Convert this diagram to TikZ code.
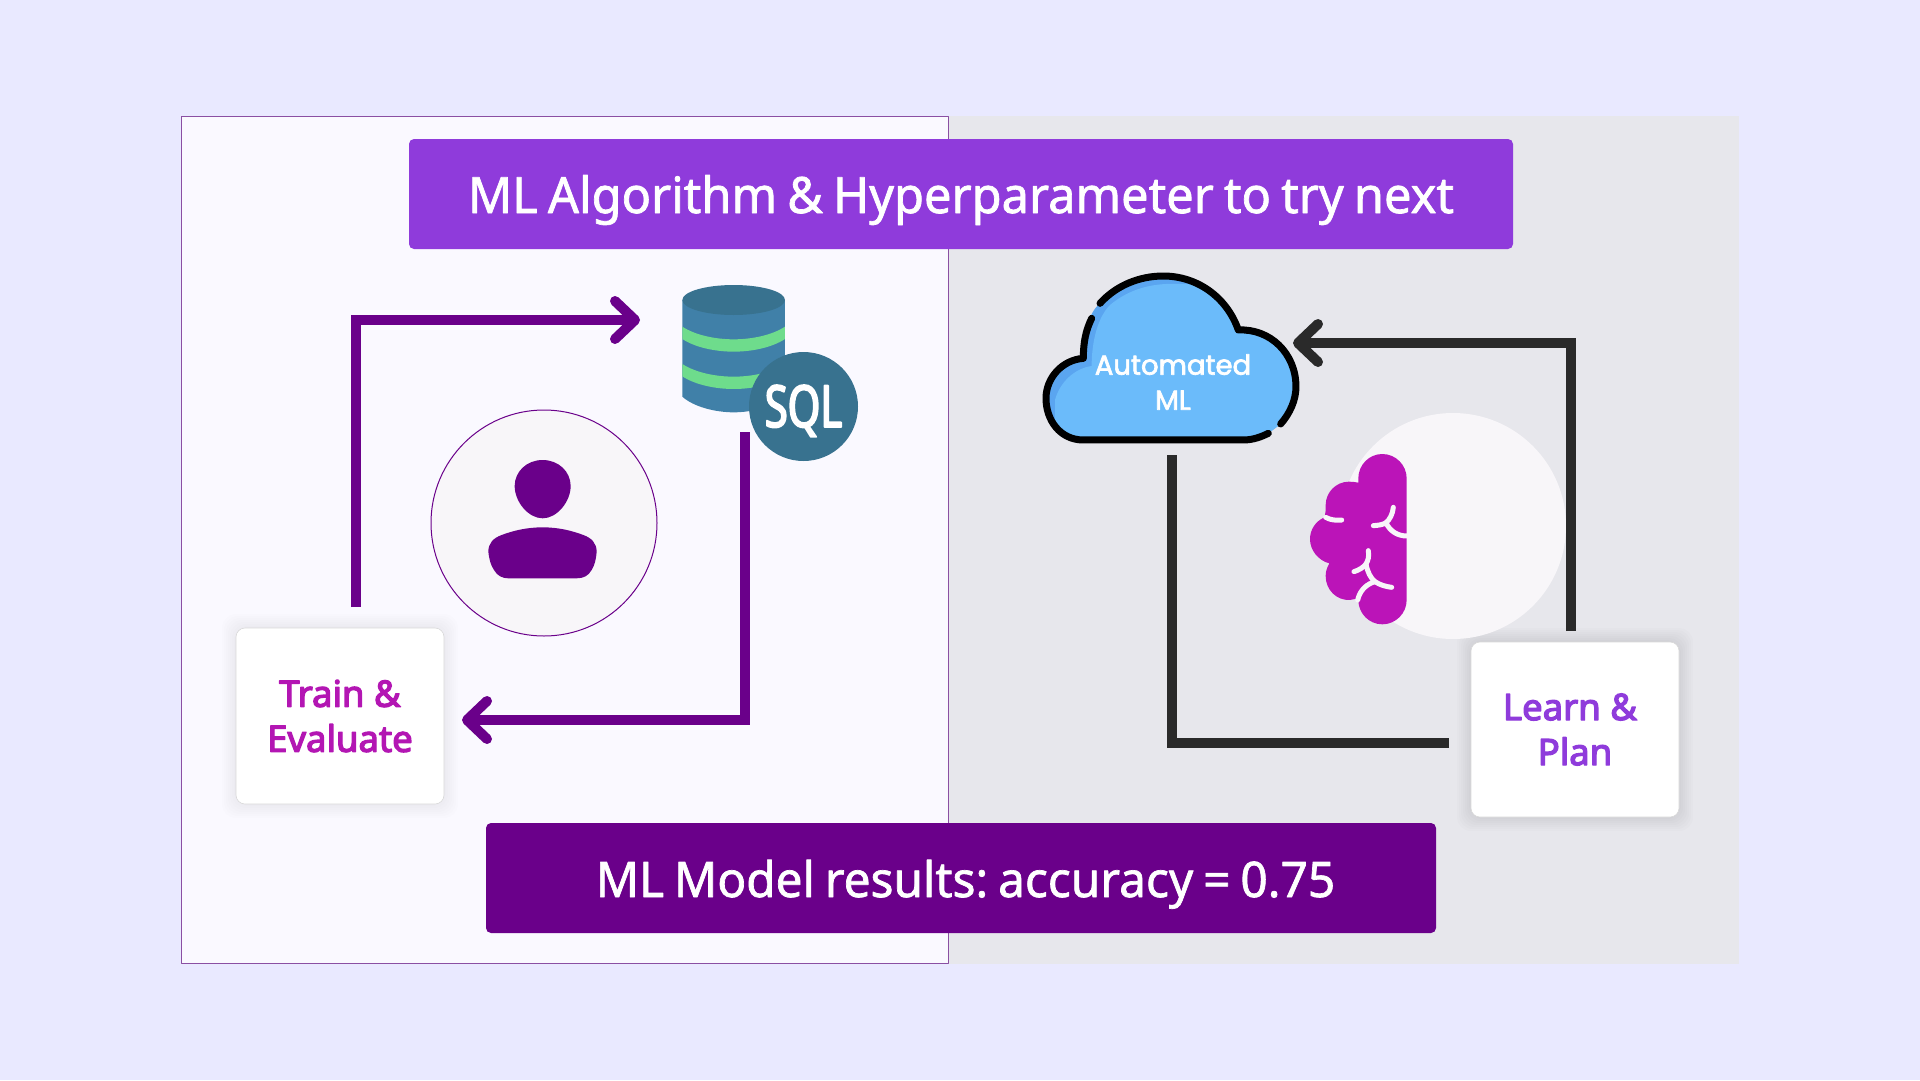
\documentclass[tikz,border=0pt]{standalone}
\usepackage{fontspec}
\setmainfont{Noto Sans}
\newfontfamily\bannerfont[FakeBold=1.4,FakeStretch=0.975,WordSpace=0.8]{Noto Sans}
\newfontfamily\cardfont[FakeBold=3.5]{Noto Sans}
\newfontfamily\cloudfont[FakeBold=2.6]{Poppins}
\newfontfamily\badgefont[FakeStretch=0.72,FakeBold=3]{Noto Sans}
\usetikzlibrary{arrows.meta}
\definecolor{pagebg}{HTML}{E9E9FF}
\definecolor{leftbg}{HTML}{FAF9FF}
\definecolor{rightbg}{HTML}{E7E7EC}
\definecolor{edgepurple}{HTML}{8A4FA3}
\definecolor{deeppurple}{HTML}{6A008A}
\definecolor{midpurple}{HTML}{8F3BDB}
\definecolor{magentatxt}{HTML}{B316B3}
\definecolor{magentabrain}{HTML}{BB14B8}
\definecolor{iconbg}{HTML}{F8F6F9}
\definecolor{dbblue}{HTML}{4080A8}
\definecolor{dbdark}{HTML}{38728F}
\definecolor{dbgreen}{HTML}{6EDC8C}
\definecolor{cloudlight}{HTML}{6BBBFA}
\definecolor{cloudshade}{HTML}{5AA5F0}
\definecolor{arrowdark}{HTML}{2A2A2A}
\tikzset{
	banner/.style={fill=#1,rounded corners=5pt,text=white,minimum height=110pt,inner sep=0pt,text height=38pt,text depth=0pt,font=\bannerfont\frenchspacing\fontsize{50}{60}\selectfont},
	cardbox/.style={fill=white,draw=black!15,line width=0.6pt,rounded corners=9pt,inner sep=0pt,align=center,font=\cardfont\fontsize{36.5}{45}\selectfont,text=#1},
	loopline/.style={line width=10pt,line join=miter,draw=#1,-{Straight Barb[length=20pt,width=38pt,round]}},
	iconicon/.style={x=0.3333pt,y=-0.3333pt},
}
\newcommand{\softshadow}[5]{
	\foreach \s in {14,12,10,8,6,4,2}
		\fill[black,opacity=#5,rounded corners=14pt] ({#1-\s},{#2-\s}) rectangle ({#3+\s},{#4+\s});
}
\def\cloudpath{(190,325) .. controls (190,250) and (205,190) .. (240,160) .. controls (290,105) and (360,78) .. (430,78) .. controls (530,78) and (620,140) .. (655,240) .. controls (750,235) and (828,310) .. (828,410) .. controls (828,450) and (810,490) .. (782,522) -- (745,550) .. controls (725,560) and (700,570) .. (670,570) -- (190,570) .. controls (120,570) and (78,510) .. (78,445) .. controls (78,385) and (125,330) .. (190,325) -- cycle}
\begin{document}
\begin{tikzpicture}[x=1pt,y=-1pt,line join=round]
	\fill[pagebg] (0,0) rectangle (1920,1080);
	\fill[rightbg] (949,116) rectangle (1739,964);
	\draw[edgepurple,fill=leftbg,line width=1pt] (181.5,116.5) rectangle (948.5,963.5);

	\node[banner=midpurple,minimum width=1104pt] (hyperbanner) at (961,194) {ML Algorithm \& Hyperparameter to try next};
	\node[banner=deeppurple,minimum width=950pt,font=\bannerfont\frenchspacing\fontsize{49}{60}\selectfont] (resultbanner) at (961,878) {\hspace*{9pt}ML Model results: accuracy = 0.75};

	\node[circle,draw=deeppurple,fill=iconbg,line width=1pt,minimum size=226pt,inner sep=0pt] (userdisc) at (544,523) {};
	\begin{scope}[shift={(420,400)},iconicon]
		\fill[deeppurple] (368,180) .. controls (320,180) and (284,215) .. (284,258) .. controls (284,305) and (325,355) .. (368,355) .. controls (411,355) and (452,305) .. (452,258) .. controls (452,215) and (416,180) .. (368,180) -- cycle;
		\fill[deeppurple] (368,382) .. controls (320,382) and (280,392) .. (245,405) .. controls (220,414) and (205,430) .. (205,455) .. controls (208,480) and (212,495) .. (222,510) .. controls (232,528) and (248,535) .. (265,535) -- (470,535) .. controls (490,535) and (505,528) .. (515,510) .. controls (524,495) and (528,480) .. (530,455) .. controls (530,430) and (515,414) .. (490,405) .. controls (455,392) and (416,382) .. (368,382) -- cycle;
	\end{scope}

	\begin{scope}[shift={(640,260)},iconicon]
		\fill[dbblue] (127,120) -- (127,410) .. controls (160,440) and (225,457) .. (281,457) .. controls (337,457) and (402,440) .. (435,410) -- (435,120) -- cycle;
		\fill[dbgreen] (127,200) .. controls (165,225) and (225,238) .. (281,238) .. controls (337,238) and (397,225) .. (435,200) -- (435,237) .. controls (397,262) and (337,275) .. (281,275) .. controls (225,275) and (165,262) .. (127,237) -- cycle;
		\fill[dbgreen] (127,312) .. controls (165,337) and (225,350) .. (281,350) .. controls (337,350) and (397,337) .. (435,312) -- (435,349) .. controls (397,374) and (337,387) .. (281,387) .. controls (225,387) and (165,374) .. (127,349) -- cycle;
		\fill[dbdark] (281,120) ellipse (154 and 45);
	\end{scope}
	\node[circle,fill=dbdark,minimum size=109pt,inner sep=0pt,text=white,text height=41pt,text depth=0pt,font=\badgefont\fontsize{58}{60}\selectfont] (sqlbadge) at (803.5,406.5) {SQL};

	\softshadow{236}{628}{444}{804}{0.006}
	\node[cardbox=magentatxt,minimum width=208pt,minimum height=176pt] (trainbox) at (340,716) {Train \&\\Evaluate};
	\softshadow{1471}{642}{1679}{817}{0.012}
	\node[cardbox=midpurple,minimum width=208pt,minimum height=175pt] (learnbox) at (1575,729.5) {Learn \&\hspace*{10pt}\\Plan};

	\coordinate (trainup) at (356,607);
	\coordinate (dbin) at (640,320);
	\coordinate (dbout) at (745,432);
	\coordinate (trainin) at (462,720);
	\coordinate (learnup) at (1571,631);
	\coordinate (cloudin) at (1293,343);
	\coordinate (learnleft) at (1449,742.5);
	\coordinate (cloudout) at (1172,455);
	\draw[loopline=deeppurple] (trainup) |- (dbin);
	\draw[loopline=deeppurple] (dbout) |- (trainin);

	\node[circle,fill=iconbg,minimum size=226pt,inner sep=0pt] (braindisc) at (1453,526) {};
	\begin{scope}[shift={(1280,430)},iconicon]
		\fill[magentabrain] (380,145) .. controls (380,105) and (347,72) .. (307,72) .. controls (267,72) and (235,105) .. (235,145) -- (235,158) .. controls (226,156) and (216,155) .. (207,155) .. controls (168,155) and (137,187) .. (137,225) .. controls (137,240) and (137,250) .. (133,262) .. controls (105,275) and (90,300) .. (90,328) .. controls (90,360) and (115,392) .. (148,400) .. controls (140,415) and (137,425) .. (137,438) .. controls (137,480) and (170,512) .. (210,510) -- (235,505) -- (235,510) .. controls (235,550) and (267,583) .. (307,583) .. controls (347,583) and (380,550) .. (380,510) -- cycle;
		\draw[iconbg,line width=5pt,line cap=round] (137,262) .. controls (150,270) and (170,272) .. (185,270);
		\draw[iconbg,line width=5pt,line cap=round] (280,287) .. controls (295,286) and (310,284) .. (318,278) .. controls (330,268) and (338,252) .. (340,232);
		\draw[iconbg,line width=5pt,line cap=round] (318,278) .. controls (330,305) and (355,318) .. (380,318);
		\draw[iconbg,line width=5pt,line cap=round] (265,362) .. controls (268,380) and (264,392) .. (258,402) .. controls (250,412) and (238,420) .. (222,425);
		\draw[iconbg,line width=5pt,line cap=round] (258,402) .. controls (262,425) and (272,445) .. (285,455) .. controls (300,465) and (318,470) .. (335,472);
		\draw[iconbg,line width=5pt,line cap=round] (285,455) .. controls (260,462) and (240,480) .. (233,510);
	\end{scope}

	\begin{scope}[shift={(1020,250)},iconicon]
		\fill[cloudshade] \cloudpath;
		\begin{scope}
			\clip \cloudpath;
			\fill[cloudlight] (105,620) -- (105,450) .. controls (120,395) and (165,355) .. (215,348) .. controls (215,270) and (235,200) .. (270,165) .. controls (330,115) and (400,98) .. (480,102) -- (900,102) -- (900,620) -- cycle;
		\end{scope}
		\draw[black,line width=7pt,line cap=round] (240,160) .. controls (290,105) and (360,78) .. (430,78) .. controls (530,78) and (620,140) .. (655,240) .. controls (750,235) and (828,310) .. (828,410) .. controls (828,450) and (810,490) .. (782,522);
		\draw[black,line width=7pt,line cap=round] (745,550) .. controls (725,560) and (700,570) .. (670,570) -- (190,570) .. controls (120,570) and (78,510) .. (78,445) .. controls (78,385) and (125,330) .. (190,325) .. controls (190,275) and (198,240) .. (215,205);
	\end{scope}
	\node[text=white,align=center,inner sep=0pt,font=\cloudfont\fontsize{27.5}{35}\selectfont] (cloudlabel) at (1173,382) {Automated\\ML};

	\draw[loopline=arrowdark] (learnup) |- (cloudin);
	\draw[line width=10pt,line join=miter,draw=arrowdark] (learnleft) -| (cloudout);
\end{tikzpicture}
\end{document}
